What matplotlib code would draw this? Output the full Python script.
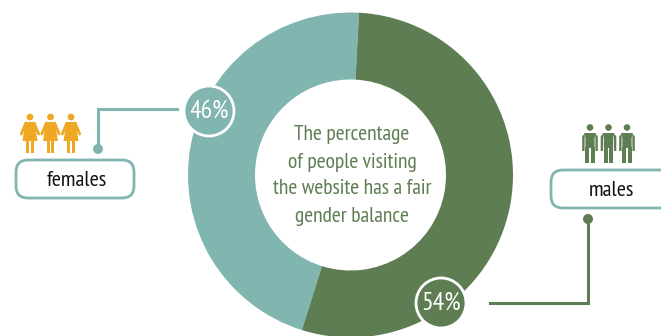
import matplotlib
matplotlib.use('Agg')
import matplotlib.pyplot as plt
from matplotlib.patches import Circle, FancyBboxPatch, Polygon, Rectangle

labels = ['females', 'males']
shares = [46, 54]
title_lines = ['The percentage', 'of people visiting', 'the website has a fair', 'gender balance']

TEAL = '#80b5b0'
GREEN = '#5f7d53'
ORANGE = '#eea823'
H = 336

plt.rcParams['font.family'] = ['PT Sans Narrow', 'Open Sans', 'DejaVu Sans']


def flip(y):
    return H - y


def badge(ax, x, y, r, color, text):
    ax.add_patch(Circle((x, flip(y)), r, fc=color, ec='white', lw=2.0, zorder=5))
    ax.text(x, flip(y), text, color='white', fontsize=18.5, ha='center', va='center', zorder=6)


def label_box(ax, x0, y0, x1, y1, text_x, text):
    ax.add_patch(FancyBboxPatch((x0 + 12, flip(y1) + 12), x1 - x0 - 24, y1 - y0 - 24,
                                boxstyle='round,pad=12,rounding_size=12',
                                fc='white', ec=TEAL, lw=2.0, zorder=3))
    ax.text(text_x, flip((y0 + y1) / 2 + 1), text, color='#111111', fontsize=16,
            ha='center', va='center', zorder=4)


def woman(ax, cx, color):
    ax.add_patch(Circle((cx, flip(117)), 3.4, fc=color, ec='none'))
    ax.add_patch(Polygon([(cx - 4.5, flip(122)), (cx + 4.5, flip(122)), (cx + 7.5, flip(141)), (cx - 7.5, flip(141))],
                         fc=color, ec='none'))
    for side in (-1, 1):
        ax.plot([cx + side * 4.2, cx + side * 8.7], [flip(123), flip(134)], color=color, lw=2.0,
                solid_capstyle='round')
        ax.add_patch(Rectangle((cx + side * 2.4 - 1.5, flip(153)), 3, 13, fc=color, ec='none'))


def man(ax, cx, color):
    ax.add_patch(Circle((cx, flip(127.5)), 3.3, fc=color, ec='none'))
    ax.add_patch(Polygon([(cx - 6, flip(133)), (cx + 6, flip(133)), (cx + 4.6, flip(138)), (cx + 4.6, flip(148)),
                          (cx - 4.6, flip(148)), (cx - 4.6, flip(138))], fc=color, ec='none'))
    for side in (-1, 1):
        ax.add_patch(Polygon([(cx + side * 5.3, flip(134)), (cx + side * 7.8, flip(136)),
                              (cx + side * 7.8, flip(151)), (cx + side * 5.5, flip(151))], fc=color, ec='none'))
        ax.add_patch(Rectangle((cx + side * 2.6 - 2, flip(163)), 4, 16, fc=color, ec='none'))


fig = plt.figure(figsize=(6.61, 3.36), dpi=100)
ax = fig.add_axes([0, 0, 1, 1])

# donut, teal slice runs counter-clockwise from the top
ax.pie(shares, colors=[TEAL, GREEN], startangle=87, center=(350.5, flip(175)), radius=162.5,
       wedgeprops={'width': 67, 'linewidth': 0}, frame=True)
ax.set_xlim(0, 661)
ax.set_ylim(0, H)
ax.set_aspect('equal')
ax.axis('off')

for i, line in enumerate(title_lines):
    ax.text(352, flip(135 + i * 27), line, color=GREEN, fontsize=15.5, ha='center', va='center')

# leader lines
ax.plot([177, 98, 98], [flip(109), flip(109), flip(149)], color=TEAL, lw=2.2, solid_joinstyle='miter')
ax.add_patch(Circle((98, flip(149)), 5, fc=TEAL, ec='none'))
ax.plot([490, 588, 588], [flip(303), flip(303), flip(219)], color=GREEN, lw=2.2, solid_joinstyle='miter')
ax.add_patch(Circle((588, flip(219)), 5, fc=GREEN, ec='none'))

badge(ax, 209, 111, 25, TEAL, '%d%%' % shares[0])
badge(ax, 441, 303, 25, GREEN, '%d%%' % shares[1])

label_box(ax, 16, 160, 134, 198, 77, labels[0])
label_box(ax, 551, 170, 680, 208, 611, labels[1])

for cx in (30, 50.5, 71):
    woman(ax, cx, ORANGE)
for cx in (590, 608.5, 627):
    man(ax, cx, GREEN)

fig.savefig('out.png', dpi=100, facecolor='white')
